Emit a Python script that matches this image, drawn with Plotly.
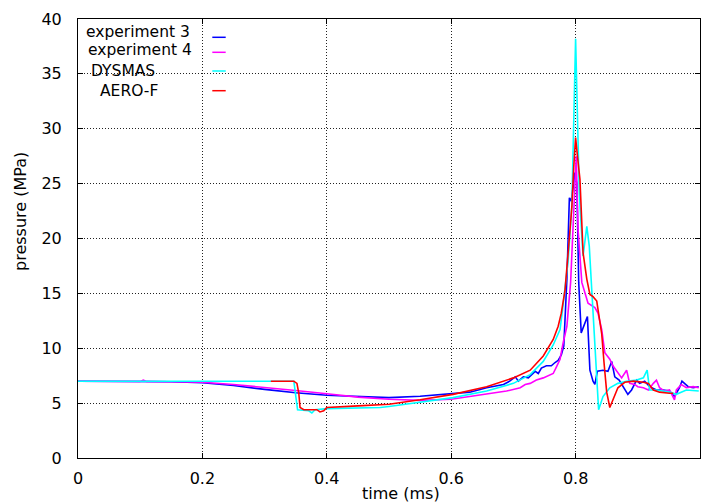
import plotly.graph_objects as go

# ---------------- data ----------------
t_exp3 = [0, 0.05, 0.10, 0.15, 0.20, 0.25, 0.30, 0.35, 0.40, 0.45,
          0.50, 0.55, 0.60, 0.63, 0.657, 0.684, 0.694, 0.703, 0.708, 0.716,
          0.724, 0.729, 0.735, 0.740, 0.745, 0.753, 0.761, 0.767, 0.772, 0.777,
          0.781, 0.786, 0.790, 0.793, 0.796, 0.799, 0.802, 0.805, 0.809, 0.814,
          0.819, 0.823, 0.828, 0.831, 0.835, 0.844, 0.852, 0.858, 0.863, 0.870,
          0.874, 0.879, 0.884, 0.890, 0.898, 0.903, 0.911, 0.919, 0.930, 0.941,
          0.951, 0.959, 0.967, 0.971, 0.981, 0.989, 0.998]
p_exp3 = [7.0, 7.0, 6.98, 6.95, 6.85, 6.6, 6.25, 5.95, 5.72, 5.6,
          5.5, 5.62, 5.85, 6.0, 6.4, 6.7, 7.0, 7.4, 7.0, 7.4,
          7.3, 7.6, 7.9, 7.7, 8.2, 8.4, 8.4, 8.7, 8.9, 9.4,
          10.2, 16.3, 23.7, 23.4, 25.0, 26.0, 25.0, 16.0, 11.4, 12.2,
          12.9, 8.0, 7.0, 6.7, 7.9, 8.0, 7.9, 8.8, 7.4, 7.1,
          6.7, 6.2, 5.8, 6.2, 7.1, 6.8, 7.0, 6.5, 6.2, 6.2,
          6.1, 5.6, 6.4, 7.0, 6.5, 6.4, 6.5]

t_exp4 = [0, 0.05, 0.10, 0.105, 0.11, 0.15, 0.20, 0.25, 0.30, 0.35,
          0.40, 0.45, 0.50, 0.55, 0.60, 0.657, 0.689, 0.711, 0.719, 0.727,
          0.737, 0.748, 0.759, 0.764, 0.770, 0.775, 0.780, 0.786, 0.792, 0.796,
          0.799, 0.801, 0.804, 0.810, 0.820, 0.831, 0.836, 0.842, 0.847, 0.855,
          0.860, 0.866, 0.874, 0.882, 0.887, 0.895, 0.900, 0.909, 0.917, 0.925,
          0.930, 0.935, 0.943, 0.951, 0.959, 0.962, 0.970, 0.978, 0.989, 0.998]
p_exp4 = [7.0, 7.0, 6.98, 7.1, 6.98, 6.95, 6.9, 6.7, 6.45, 6.15,
          5.85, 5.55, 5.35, 5.25, 5.35, 5.8, 6.1, 6.4, 6.7, 6.8,
          7.1, 7.3, 7.6, 7.7, 8.4, 9.0, 10.5, 12.0, 16.0, 21.0,
          25.0, 27.5, 20.8, 16.0, 14.1, 13.7, 13.2, 11.7, 9.6, 9.0,
          8.4, 7.9, 7.3, 8.0, 6.8, 6.7, 6.5, 6.4, 6.2, 6.8,
          7.1, 6.4, 6.1, 6.2, 5.3, 6.2, 6.7, 6.4, 6.5, 6.4]

t_dysmas = [0, 0.347, 0.353, 0.371, 0.376, 0.381, 0.40, 0.45, 0.486, 0.50,
            0.55, 0.603, 0.657, 0.70, 0.727, 0.748, 0.764, 0.775, 0.780, 0.788,
            0.794, 0.800, 0.806, 0.812, 0.818, 0.822, 0.826, 0.831, 0.837, 0.844,
            0.855, 0.868, 0.882, 0.898, 0.909, 0.915, 0.919, 0.930, 0.951, 0.962,
            0.978, 0.998]
p_dysmas = [7.0, 7.0, 4.4, 4.3, 4.1, 4.4, 4.5, 4.55, 4.6, 4.7,
            5.1, 5.5, 6.1, 6.8, 7.6, 8.8, 10.3, 11.7, 14.0, 18.0,
            23.0, 38.2, 24.0, 18.4, 21.1, 19.3, 15.3, 10.0, 4.4, 5.6,
            6.4, 6.8, 7.0, 7.1, 7.3, 8.0, 6.2, 6.2, 6.0, 5.8,
            6.2, 6.1]

t_aerof = [0.31, 0.347, 0.352, 0.355, 0.357, 0.363, 0.384, 0.389, 0.395, 0.40,
           0.45, 0.50, 0.55, 0.603, 0.657, 0.70, 0.727, 0.748, 0.764, 0.772,
           0.777, 0.783, 0.788, 0.794, 0.797, 0.800, 0.803, 0.807, 0.812, 0.818,
           0.823, 0.828, 0.834, 0.839, 0.842, 0.846, 0.850, 0.855, 0.860, 0.868,
           0.879, 0.893, 0.909, 0.917, 0.925, 0.935, 0.951, 0.957]
p_aerof = [7.0, 7.0, 6.8, 5.9, 4.6, 4.4, 4.4, 4.2, 4.3, 4.6,
           4.75, 4.9, 5.3, 5.8, 6.5, 7.3, 8.0, 9.3, 10.8, 12.0,
           13.2, 15.3, 18.7, 22.9, 26.5, 29.2, 27.5, 25.4, 18.7, 16.3,
           14.9, 14.7, 14.3, 12.6, 11.3, 8.5, 6.0, 4.6, 5.3, 6.4,
           6.9, 7.0, 6.9, 6.8, 6.2, 6.0, 5.9, 5.9]

series_names = ["experiment 3", "experiment 4", "DYSMAS", "AERO-F"]
series_colors = ["#0000ff", "#ff00ff", "#00ffff", "#ff0000"]

x_ticks = [0, 0.2, 0.4, 0.6, 0.8]
x_ticktext = ["0", "0.2", "0.4", "0.6", "0.8"]
y_ticks = [0, 5, 10, 15, 20, 25, 30, 35, 40]

x_title = "time (ms)"
y_title = "pressure (MPa)"

# ---------------- figure ----------------
FONT = "DejaVu Sans"
W, H = 701, 504
ML, MR, MT, MB = 78, 1, 19, 46
PW, PH = W - ML - MR, H - MT - MB


def px_x(px):
    return (px - ML) / PW


def px_y(py):
    return (H - MB - py) / PH


fig = go.Figure()
data = [(t_exp3, p_exp3), (t_exp4, p_exp4), (t_dysmas, p_dysmas), (t_aerof, p_aerof)]
for (tx, py_), name, col in zip(data, series_names, series_colors):
    fig.add_trace(go.Scatter(x=tx, y=py_, mode="lines", name=name,
                             line=dict(color=col, width=1.6), showlegend=False))

axis_common = dict(
    showline=True, linecolor="black", linewidth=1, mirror="ticks",
    ticks="inside", ticklen=5, tickcolor="black", tickwidth=1,
    showgrid=True, gridcolor="#222222", gridwidth=1, griddash="1px,2px",
    zeroline=False, tickfont=dict(family=FONT, size=16, color="black"),
)

fig.update_xaxes(range=[0, 1], tickvals=x_ticks, ticktext=x_ticktext,
                 ticklabelstandoff=6, **axis_common)
fig.update_yaxes(range=[0, 40], tickvals=y_ticks, ticklabelstandoff=12,
                 **axis_common)

shapes = [dict(type="rect", xref="paper", yref="paper",
               x0=0, x1=px_x(229), y0=px_y(100), y1=1,
               fillcolor="white", line=dict(width=0), layer="between")]

annotations = []
legend_text_left = [84, 85.5, 89, 98]
legend_text_mid = [31.5, 50.5, 71, 90.5]
legend_line_y = [37.3, 52.3, 71, 90.7]
for name, col, lx, ly, sy in zip(series_names, series_colors,
                                 legend_text_left, legend_text_mid, legend_line_y):
    annotations.append(dict(text=name, xref="paper", yref="paper",
                            x=px_x(lx), y=px_y(ly), xanchor="left", yanchor="middle",
                            showarrow=False,
                            font=dict(family=FONT, size=15.5, color="black")))
    shapes.append(dict(type="line", xref="paper", yref="paper",
                       x0=px_x(212.3), x1=px_x(225.7), y0=px_y(sy), y1=px_y(sy),
                       line=dict(color=col, width=1.5), layer="above"))

annotations.append(dict(text=x_title, xref="paper", yref="paper",
                        x=px_x(401), y=px_y(494), xanchor="center", yanchor="middle",
                        showarrow=False, font=dict(family=FONT, size=16, color="black")))
annotations.append(dict(text=y_title, xref="paper", yref="paper",
                        x=px_x(20), y=px_y(212), xanchor="center", yanchor="middle",
                        textangle=-90, showarrow=False,
                        font=dict(family=FONT, size=16, color="black")))

fig.update_layout(
    width=W, height=H,
    margin=dict(l=ML, r=MR, t=MT, b=MB, pad=0),
    paper_bgcolor="white", plot_bgcolor="white",
    shapes=shapes, annotations=annotations,
    showlegend=False,
    font=dict(family=FONT, color="black"),
)

fig.write_html("out.html")
